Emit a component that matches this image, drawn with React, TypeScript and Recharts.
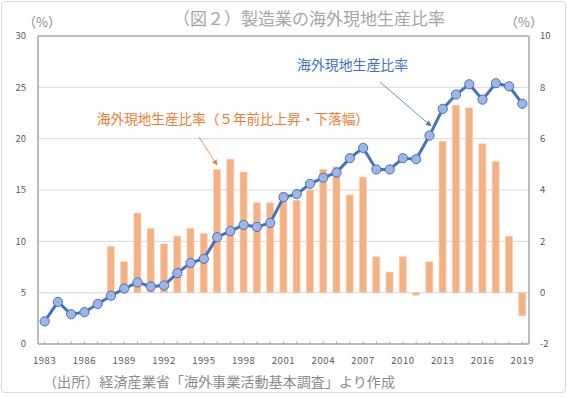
import React from "react";
import {
  ComposedChart,
  Bar,
  Line,
  XAxis,
  YAxis,
  CartesianGrid,
  ReferenceLine,
} from "recharts";

const years = [
  "1983", "1984", "1985", "1986", "1987", "1988", "1989", "1990", "1991", "1992",
  "1993", "1994", "1995", "1996", "1997", "1998", "1999", "2000", "2001", "2002",
  "2003", "2004", "2005", "2006", "2007", "2008", "2009", "2010", "2011", "2012",
  "2013", "2014", "2015", "2016", "2017", "2018", "2019",
];

// 海外現地生産比率 (left axis, %)
const ratio = [
  2.2, 4.1, 2.9, 3.1, 3.9, 4.7, 5.4, 6.0, 5.6, 5.7,
  6.9, 7.9, 8.3, 10.4, 11.0, 11.6, 11.4, 11.8, 14.3, 14.6,
  15.6, 16.2, 16.7, 18.1, 19.1, 17.0, 17.0, 18.1, 18.0, 20.3,
  22.9, 24.3, 25.3, 23.8, 25.4, 25.1, 23.4,
];

// 5年前比上昇・下落幅 (right axis, %pt)
const change: (number | null)[] = [
  null, null, null, null, null, 1.8, 1.2, 3.1, 2.5, 1.9,
  2.2, 2.5, 2.3, 4.8, 5.2, 4.7, 3.5, 3.5, 3.9, 3.6,
  4.0, 4.8, 4.9, 3.8, 4.5, 1.4, 0.8, 1.4, -0.1, 1.2,
  5.9, 7.3, 7.2, 5.8, 5.1, 2.2, -0.9,
];

const leftTicks = [0, 5, 10, 15, 20, 25, 30];
const rightTicks = [-2, 0, 2, 4, 6, 8, 10];
const xTickLabels = [
  "1983", "1986", "1989", "1992", "1995", "1998", "2001",
  "2004", "2007", "2010", "2013", "2016", "2019",
];

const data = years.map((y, i) => ({ year: y, ratio: ratio[i], change: change[i] }));

const JP = "'Noto Sans CJK JP', 'Noto Sans', sans-serif";
const BORDER = "#a6a6a6";
const TICK_COLOR = "#595959";

const XTick = (props: any) => {
  const { x, y, payload } = props;
  const show = xTickLabels.includes(String(payload.value));
  return (
    <g>
      <line x1={x} x2={x} y1={y} y2={y - 2.5} stroke={BORDER} strokeWidth={1} />
      {show && (
        <text
          x={x}
          y={y + 19.5}
          textAnchor="middle"
          fontSize={9.5}
          fill={TICK_COLOR}
          fontFamily={JP}
          letterSpacing={0.6}
        >
          {payload.value}
        </text>
      )}
    </g>
  );
};

export default function App() {
  return (
    <div
      style={{
        position: "absolute",
        left: 0,
        top: 0,
        width: 567,
        height: 397,
        background: "#fff",
        fontFamily: JP,
      }}
    >
      <div
        style={{
          position: "absolute",
          left: 1,
          top: 1,
          width: 563,
          height: 390,
          border: "1px solid #d9d9d9",
          borderRadius: 4,
        }}
      />
      <ComposedChart
        width={567}
        height={397}
        data={data}
        margin={{ top: 36, right: 0, bottom: 28, left: 0 }}
        barCategoryGap={0}
      >
        <CartesianGrid
          yAxisId="left"
          vertical={false}
          stroke="#d9d9d9"
          strokeWidth={1}
          horizontalValues={[5, 10, 15, 20, 25]}
        />
        <XAxis
          dataKey="year"
          interval={0}
          tick={<XTick />}
          tickLine={false}
          tickSize={0}
          tickMargin={0}
          height={25}
          axisLine={{ stroke: BORDER, strokeWidth: 1.5 }}
        />
        <YAxis
          yAxisId="left"
          orientation="left"
          domain={[0, 30]}
          ticks={leftTicks}
          width={38}
          tickLine={false}
          tickSize={0}
          tickMargin={12}
          axisLine={{ stroke: BORDER, strokeWidth: 1.5 }}
          tick={{ fontSize: 9.5, fill: TICK_COLOR, fontFamily: JP }}
          interval={0}
        />
        <YAxis
          yAxisId="right"
          orientation="right"
          domain={[-2, 10]}
          ticks={rightTicks}
          width={38}
          tickLine={false}
          tickSize={0}
          tickMargin={11}
          axisLine={{ stroke: BORDER, strokeWidth: 1.5 }}
          tick={{ fontSize: 9.5, fill: TICK_COLOR, fontFamily: JP, textAnchor: "start" }}
          interval={0}
        />
        <ReferenceLine yAxisId="left" y={30} stroke={BORDER} strokeWidth={1.5} />
        <Bar
          yAxisId="right"
          dataKey="change"
          fill="#F4B183"
          stroke="#F8CBAD"
          strokeWidth={0.6}
          barSize={7}
          isAnimationActive={false}
        />
        <Line
          yAxisId="left"
          dataKey="ratio"
          type="linear"
          stroke="#4472C4"
          strokeWidth={3}
          dot={{ r: 4.6, fill: "#9FB6E2", stroke: "#4472C4", strokeWidth: 1 }}
          activeDot={false}
          isAnimationActive={false}
        />
      </ComposedChart>

      <svg
        width={567}
        height={397}
        style={{ position: "absolute", left: 0, top: 0, pointerEvents: "none" }}
      >
        <defs>
          <marker id="arrO" viewBox="0 0 10 10" refX="9" refY="5" markerWidth="7" markerHeight="7" orient="auto">
            <path d="M0,0 L10,5 L0,10 z" fill="#ED7D31" />
          </marker>
          <marker id="arrB" viewBox="0 0 10 10" refX="9" refY="5" markerWidth="7" markerHeight="7" orient="auto">
            <path d="M0,0 L10,5 L0,10 z" fill="#4472C4" />
          </marker>
        </defs>
        <text x={309} y={25} textAnchor="middle" fontSize={17} fill="#a6a6a6" fontFamily={JP}>
          （図２）製造業の海外現地生産比率
        </text>
        <text x={42} y={27} textAnchor="middle" fontSize={13} fill="#8c8c8c" fontFamily={JP}>
          （%）
        </text>
        <text x={524} y={27} textAnchor="middle" fontSize={13} fill="#8c8c8c" fontFamily={JP}>
          （%）
        </text>
        <text x={97} y={124} fontSize={13.6} fill="#ED7D31" fontFamily={JP}>
          海外現地生産比率（５年前比上昇・下落幅）
        </text>
        <line x1={199} y1={137} x2={217} y2={165} stroke="#ED7D31" strokeWidth={0.8} markerEnd="url(#arrO)" />
        <text x={297} y={70} fontSize={13.9} fill="#4472C4" fontFamily={JP}>
          海外現地生産比率
        </text>
        <line x1={380} y1={82} x2={431} y2={126} stroke="#4472C4" strokeWidth={0.8} markerEnd="url(#arrB)" />
        <text x={43} y={387} fontSize={14.1} fill="#8c8c8c" fontFamily={JP}>
          （出所）経済産業省「海外事業活動基本調査」より作成
        </text>
      </svg>
    </div>
  );
}
